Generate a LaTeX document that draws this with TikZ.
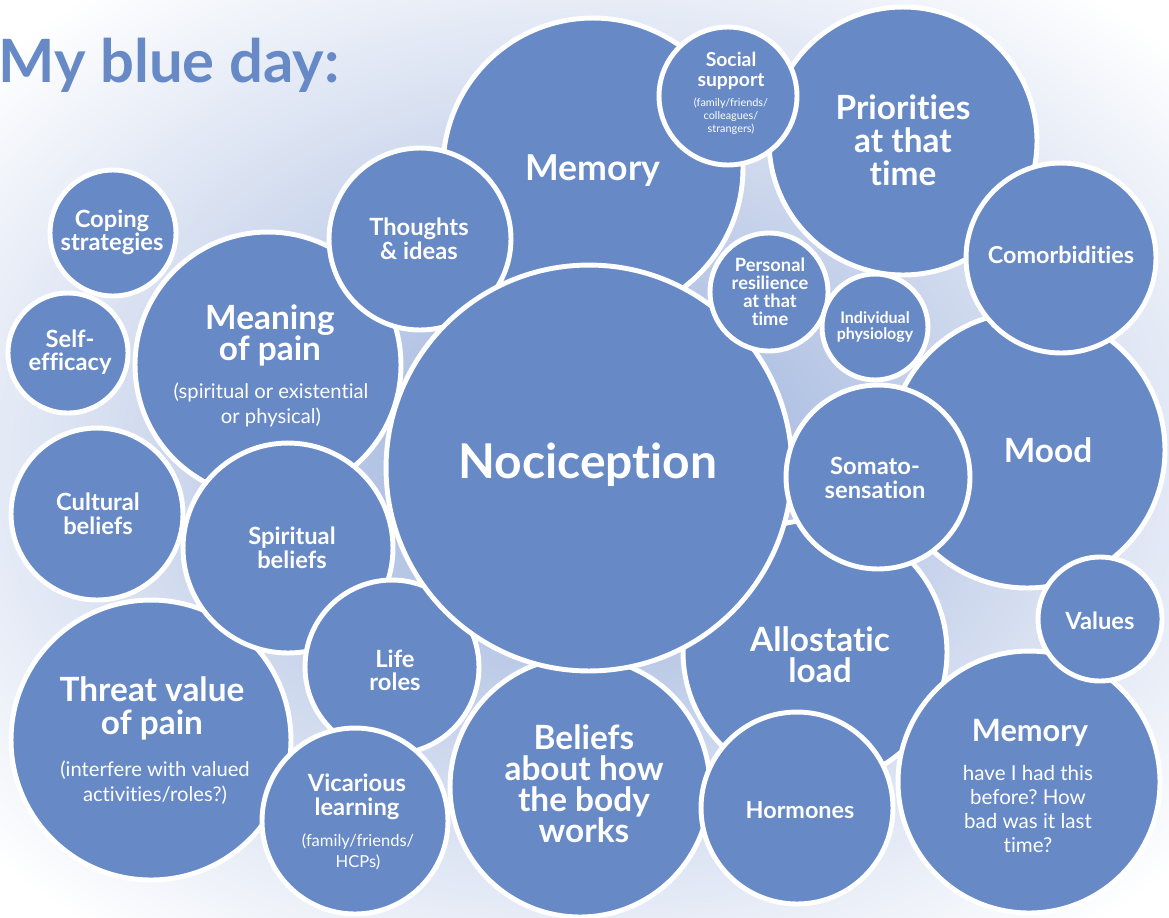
\documentclass[tikz,border=0pt]{standalone}
\usepackage{fontspec}
\setmainfont{Lato}[Ligatures=NoCommon]
\usetikzlibrary{positioning}
\frenchspacing

\definecolor{bubblue}{HTML}{6789C5}
\definecolor{glowblue}{HTML}{98AEDA}
\newcommand{\fsz}[2]{\fontsize{#1}{#2}\selectfont}

\begin{document}
\begin{tikzpicture}[x=0.02cm, y=-0.02cm,
  bubble/.style={circle, fill=bubblue, draw=white, line width=2.8pt, inner sep=0pt},
  lbl/.style={text=white, align=center, inner sep=0pt},
  sub/.style={text=white, align=center, inner sep=0pt}]

  \useasboundingbox (0,0) rectangle (1169,917);
  \begin{scope}
    \clip (0,0) rectangle (1169,917);
    \shade[inner color=glowblue, outer color=white] (590,460) ellipse [x radius=16cm, y radius=12cm];
  \end{scope}

  \node[anchor=base west, inner sep=0pt, text=bubblue, font=\bfseries\fsz{34}{36}] (title) at (-2,82) {My blue day:};

  % back row
  \node[bubble, minimum size=6.00cm] (mem) at (593,168) {};
  \node[bubble, minimum size=5.36cm] (prio) at (903,141) {};
  \node[bubble, minimum size=2.76cm] (social) at (728,96) {};
  \node[bubble, minimum size=5.32cm] (mean) at (268,365) {};
  \node[bubble, minimum size=2.52cm] (cope) at (113,233) {};
  \node[bubble, minimum size=2.40cm] (self) at (68,353) {};
  \node[bubble, minimum size=3.64cm] (thought) at (420,239) {};
  \node[bubble, minimum size=3.44cm] (cult) at (97,514) {};
  \node[bubble, minimum size=5.60cm] (threat) at (151,740) {};
  \node[bubble, minimum size=4.20cm] (spirit) at (288,548) {};
  \node[bubble, minimum size=3.48cm] (life) at (392,667) {};
  \node[bubble, minimum size=5.20cm] (body) at (580,787) {};
  \node[bubble, minimum size=3.72cm] (vic) at (355,821) {};
  \node[bubble, minimum size=5.28cm] (allo) at (815,652) {};
  \node[bubble, minimum size=5.52cm] (mood) at (1027,450) {};

  % front row
  \node[bubble, minimum size=8.12cm] (noci) at (589,468) {};
  \node[bubble, minimum size=2.36cm] (resil) at (769,292) {};
  \node[bubble, minimum size=2.12cm] (phys) at (875,327) {};
  \node[bubble, minimum size=3.80cm] (comor) at (1061,258) {};
  \node[bubble, minimum size=3.68cm] (soma) at (878,477) {};
  \node[bubble, minimum size=3.84cm] (horm) at (797,808) {};
  \node[bubble, minimum size=5.24cm] (mem2) at (1029,782) {};
  \node[bubble, minimum size=2.48cm] (val) at (1100,619) {};

  % labels
  \node[lbl, font=\bfseries\fsz{27.3}{28}] (noci-t) at (588,465) {Nociception};
  \node[lbl, font=\bfseries\fsz{20.3}{20}] (mem-t) at (593,171) {Memory};
  \node[lbl, font=\bfseries\fsz{11}{11.3}] (social-t) at (731,71) {Social\\support};
    \node[sub, font=\fsz{6.2}{7.4}] (social-s) at (731,116) {(family/friends/\\colleagues/\\strangers)};
  \node[lbl, font=\bfseries\fsz{19}{18.8}] (prio-t) at (903,140) {Priorities\\at that\\time};
  \node[lbl, font=\bfseries\fsz{13.5}{13.7}] (thought-t) at (419,239) {Thoughts\\\& ideas};
  \node[lbl, font=\bfseries\fsz{13.5}{13.2}] (cope-t) at (112,232) {Coping\\strategies};
  \node[lbl, font=\bfseries\fsz{13.5}{13.2}] (self-t) at (70,352) {Self-\\efficacy};
  \node[lbl, font=\bfseries\fsz{19}{17.6}] (mean-t) at (270,335) {Meaning\\of pain};
    \node[sub, font=\fsz{11.5}{14.2}] (mean-s) at (271,405) {(spiritual or existential\\or physical)};
  \node[lbl, font=\bfseries\fsz{13.5}{13.7}] (cult-t) at (98,514) {Cultural\\beliefs};
  \node[lbl, font=\bfseries\fsz{13.5}{13.7}] (spirit-t) at (292,548) {Spiritual\\beliefs};
  \node[lbl, font=\bfseries\fsz{13.5}{13.2}] (life-t) at (395,670) {Life\\roles};
  \node[lbl, font=\bfseries\fsz{19}{18.8}] (threat-t) at (152,708) {Threat value\\of pain};
    \node[sub, font=\fsz{11.5}{14.2}] (threat-s) at (155,783) {(interfere with valued\\activities/roles?)};
  \node[lbl, font=\bfseries\fsz{13.5}{14}] (vic-t) at (357,797) {Vicarious\\learning};
    \node[sub, font=\fsz{9.4}{12}] (vic-s) at (358,852) {(family/friends/\\HCPs)};
  \node[lbl, font=\bfseries\fsz{19}{17.6}] (body-t) at (584,784) {Beliefs\\about how\\the body\\works};
  \node[lbl, font=\bfseries\fsz{10.4}{10.2}] (resil-t) at (770,292) {Personal\\resilience\\at that\\time};
  \node[lbl, font=\bfseries\fsz{9.1}{9.1}] (phys-t) at (875,327) {Individual\\physiology};
  \node[lbl, font=\bfseries\fsz{13.3}{13.7}] (comor-t) at (1061,255) {Comorbidities};
  \node[lbl, font=\bfseries\fsz{19}{18.8}] (mood-t) at (1048,450) {Mood};
  \node[lbl, font=\bfseries\fsz{13.5}{13.7}] (soma-t) at (875,478) {Somato-\\sensation};
  \node[lbl, font=\bfseries\fsz{13.5}{13.7}] (val-t) at (1100,621) {Values};
  \node[lbl, font=\bfseries\fsz{19}{17.6}] (allo-t) at (820,655) {Allostatic\\load};
  \node[lbl, font=\bfseries\fsz{13.3}{13.7}] (horm-t) at (800,810) {Hormones};
  \node[lbl, font=\bfseries\fsz{17.5}{18}] (mem2-t) at (1030,733) {Memory};
    \node[sub, font=\fsz{11.7}{13.7}] (mem2-s) at (1028,809) {have I had this\\before? How\\bad was it last\\time?};

\end{tikzpicture}
\end{document}
